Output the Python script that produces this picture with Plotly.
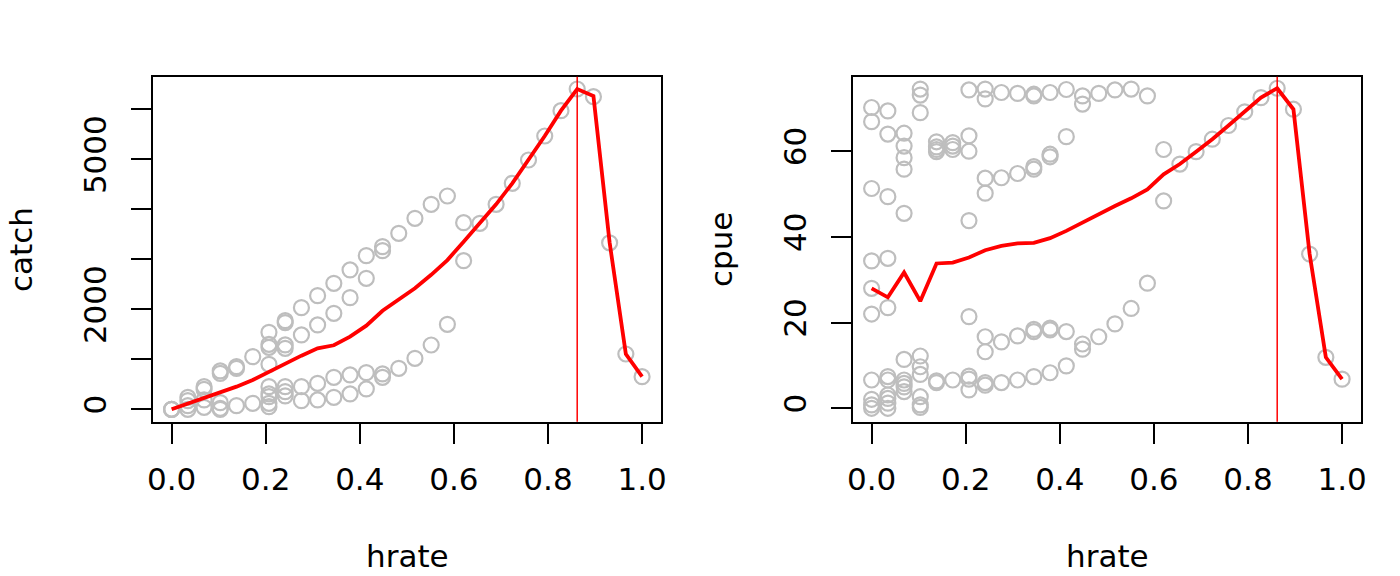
import plotly.graph_objects as go
from plotly.subplots import make_subplots

# harvest rate grid (30 steps from 0 to 1)
hrate = [0.0, 0.0345, 0.069, 0.1034, 0.1379, 0.1724, 0.2069, 0.2414, 0.2759, 0.3103,
         0.3448, 0.3793, 0.4138, 0.4483, 0.4828, 0.5172, 0.5517, 0.5862, 0.6207, 0.6552,
         0.6897, 0.7241, 0.7586, 0.7931, 0.8276, 0.8621, 0.8966, 0.931, 0.9655, 1.0]

# simulated catch at each hrate (one list per hrate)
catch_pts = [
    [0, 0, 0], [240, 173, 73, 0], [453, 400, 187, 40], [767, 720, 133, 20, 0],
    [853, 820, 73], [1053, 120], [1540, 1300, 1240, 900, 453, 307, 253, 120, 53],
    [1773, 1733, 1287, 1220, 453, 353, 267], [2033, 1487, 453, 173],
    [2273, 1687, 520, 187], [2520, 1920, 640, 240], [2787, 2233, 687, 307],
    [3073, 2620, 733, 407], [3253, 3173, 707, 640], [3520, 820], [3820, 1020],
    [4100, 1286], [4266, 1700], [3732, 2972], [3720], [4100], [4520], [4986],
    [5466], [5972], [6406], [6252], [3330], [1106], [652],
]
catch_mean = [0, 113, 220, 333, 453, 587, 753, 920, 1073, 1220, 1280, 1453, 1673, 1970, 2200,
              2420, 2690, 2985, 3352, 3720, 4100, 4520, 4986, 5466, 5972, 6406, 6266, 3335, 1106, 652]

# simulated cpue at each hrate
cpue_pts = [
    [70.2, 66.9, 51.3, 34.4, 28.0, 22.0, 6.6, 2.1, 0.8, 0],
    [69.4, 64.0, 49.4, 35.0, 23.5, 7.4, 6.6, 3.1, 2.3, 1.2, 0],
    [64.2, 61.2, 58.5, 55.8, 45.5, 11.4, 6.6, 5.8, 5.0, 3.9],
    [74.5, 73.1, 69.0, 12.2, 9.7, 7.9, 2.7, 0.8, 0.2],
    [62.2, 61.0, 60.4, 59.9, 6.4, 6.0], [62.0, 61.2, 60.4, 6.6],
    [74.3, 63.6, 60.0, 43.8, 21.4, 7.5, 6.8, 4.3],
    [74.5, 72.2, 53.7, 50.2, 16.7, 13.2, 6.0, 5.4],
    [73.7, 53.8, 15.5, 6.0], [73.5, 54.8, 16.9, 6.6],
    [73.3, 72.9, 56.4, 55.8, 18.4, 17.9, 7.4], [73.7, 59.3, 58.7, 18.7, 18.3, 8.3],
    [74.4, 63.4, 17.9, 9.9], [72.9, 71.0, 15.0, 13.8], [73.5, 16.7], [74.3, 19.7],
    [74.5, 23.3], [72.9, 29.2], [60.4, 48.4], [57.0], [59.9], [62.8], [66.0],
    [69.2], [72.5], [74.7], [69.8], [36.0], [11.9], [6.8],
]
cpue_mean = [28.0, 25.9, 31.7, 25.0, 33.8, 34.0, 35.2, 36.9, 37.9, 38.5, 38.6, 39.7, 41.4, 43.4, 45.3,
             47.2, 49.0, 51.1, 54.6, 57.0, 59.9, 62.8, 66.0, 69.2, 72.5, 74.7, 69.8, 36.0, 11.9, 6.8]

x_ticks = [0, 0.2, 0.4, 0.6, 0.8, 1.0]
x_labels = ["0.0", "0.2", "0.4", "0.6", "0.8", "1.0"]
catch_ticks = [0, 1000, 2000, 3000, 4000, 5000, 6000]
catch_labels = ["0", "", "2000", "", "", "5000", ""]
cpue_ticks = [0, 20, 40, 60]
cpue_labels = ["0", "20", "40", "60"]

FONT = "DejaVu Sans"
FS = 31
W, H = 1400, 576

fig = make_subplots(rows=1, cols=2)

panels = [(catch_pts, catch_mean), (cpue_pts, cpue_mean)]
for col, (pts, mean) in enumerate(panels, start=1):
    xs = [h for h, vals in zip(hrate, pts) for v in vals]
    ys = [v for vals in pts for v in vals]
    fig.add_trace(go.Scatter(x=xs, y=ys, mode="markers",
                             marker=dict(symbol="circle-open", size=15, color="#bebebe",
                                         line=dict(width=2.2, color="#bebebe"))),
                  row=1, col=col)
    fig.add_trace(go.Scatter(x=hrate, y=mean, mode="lines",
                             line=dict(color="red", width=3.8)),
                  row=1, col=col)
    best = hrate[mean.index(max(mean))]
    fig.add_vline(x=best, line_color="red", line_width=1.5, row=1, col=col)

axis_common = dict(showgrid=False, zeroline=False, showline=True, mirror=True,
                   linecolor="black", linewidth=2, ticks="outside", ticklen=20,
                   tickwidth=2, tickcolor="black", automargin=False,
                   tickfont=dict(family=FONT, size=FS, color="black"))

fig.update_xaxes(**axis_common, range=[-0.04, 1.04], tickvals=x_ticks, ticktext=x_labels,
                 ticklabelstandoff=9)
fig.update_xaxes(domain=[152.8 / W, 660.9 / W], row=1, col=1)
fig.update_xaxes(domain=[852.8 / W, 1360.9 / W], row=1, col=2)

ydom = [(H - 421.7) / H, (H - 76.7) / H]
fig.update_yaxes(**axis_common, domain=ydom, tickangle=-90, ticklabelstandoff=12)
fig.update_yaxes(range=[-248, 6652], tickvals=catch_ticks, ticktext=catch_labels, row=1, col=1)
fig.update_yaxes(range=[-3.13, 77.39], tickvals=cpue_ticks, ticktext=cpue_labels, row=1, col=2)

titles = [("catch", 21, 250, -90), ("cpue", 721, 250, -90),
          ("hrate", 407, 556, 0), ("hrate", 1107, 556, 0)]
for text, px, py, ang in titles:
    fig.add_annotation(text=text, x=px / W, y=1 - py / H, xref="paper", yref="paper",
                       showarrow=False, textangle=ang, xanchor="center", yanchor="middle",
                       font=dict(family=FONT, size=FS, color="black"))

fig.update_layout(width=W, height=H, margin=dict(l=0, r=0, t=0, b=0),
                  plot_bgcolor="white", paper_bgcolor="white", showlegend=False)

fig.write_html("out.html", config={"displayModeBar": False})

# drop the browser's default body margin so the figure sits at the page corner
with open("out.html", encoding="utf-8") as f:
    page = f.read()
page = page.replace("<head>", "<head><style>body{margin:0;}</style>", 1)
with open("out.html", "w", encoding="utf-8") as f:
    f.write(page)
